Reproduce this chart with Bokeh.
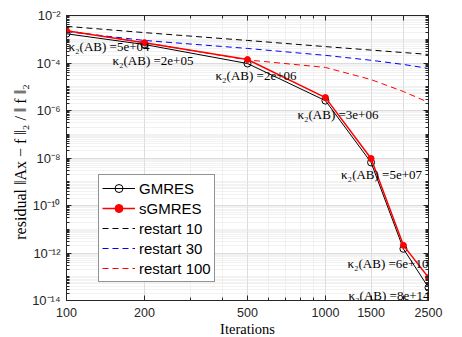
from bokeh.plotting import figure
from bokeh.models import (Range1d, FixedTicker, LogAxis, Legend, LegendItem,
                          ColumnDataSource, Label)
from bokeh.embed import file_html
from bokeh.resources import INLINE

# ---------------- data ----------------
iterations = [100, 200, 500, 1000, 1500, 2000, 2500]
gmres = [1.7e-3, 6.0e-4, 9.5e-5, 2.6e-6, 6.5e-9, 1.5e-12, 3.5e-14]
sgmres = [2.3e-3, 7.2e-4, 1.4e-4, 3.5e-6, 9.5e-9, 2.1e-12, 9.3e-14]
restart10 = [3.5e-3, 1.9e-3, 8.9e-4, 4.9e-4, 3.5e-4, 2.75e-4, 2.3e-4]
restart30 = [2.1e-3, 8.9e-4, 4.1e-4, 2.1e-4, 1.3e-4, 8.7e-5, 5.9e-5]
restart100 = [2.3e-3, 7.2e-4, 1.35e-4, 6.5e-5, 2.0e-5, 6.3e-6, 2.2e-6]
kappa = ["5e+04", "2e+05", "2e+06", "3e+06", "5e+07", "6e+10", "8e+14"]

x_ticks = [100, 200, 500, 1000, 1500, 2000, 2500]
x_tick_labels = ["100", "200", "500", "1000", "1500", "", "2500"]
x_minor = [300, 400, 600, 700, 800, 900]
y_exps = [-14, -12, -10, -8, -6, -4, -2]

# label placement (style, screen px); annotations are clipped to the frame,
# so the edge labels are nudged inside it
label_dx = [2, -32, -32, -28, -30, -56, -80]
label_dy = [-13, -16, -12, -14, -12, -15, -8]

# ---------------- figure ----------------
p = figure(frame_width=362, frame_height=285,
           x_axis_type="log", y_axis_type="log",
           x_range=Range1d(100, 2500), y_range=Range1d(1e-14, 1e-2),
           output_backend="svg", toolbar_location=None,
           min_border_left=66, min_border_right=34, min_border_top=15,
           min_border_bottom=37, background_fill_color="white",
           border_fill_color="white")
p.outline_line_color = "#262626"

y_major = [10.0 ** e for e in y_exps]
y_minor = []
for e in range(-14, -2):
    for k in range(1, 10):
        v = k * 10.0 ** e
        if k == 1 and e in y_exps:
            continue
        y_minor.append(v)

xticker = FixedTicker(ticks=x_ticks, minor_ticks=x_minor)
yticker = FixedTicker(ticks=y_major, minor_ticks=y_minor)

sup = str.maketrans("-0123456789", "⁻⁰¹²³⁴⁵⁶⁷⁸⁹")
y_over = {10.0 ** e: "10" + str(e).translate(sup) for e in y_exps}
x_over = {t: s if s else " " for t, s in zip(x_ticks, x_tick_labels)}

axis_col = "#262626"
tick_font = "Liberation Sans"


def style_axis(ax):
    ax.axis_line_color = axis_col
    ax.major_tick_line_color = axis_col
    ax.minor_tick_line_color = axis_col
    ax.major_tick_in = 5
    ax.major_tick_out = 0
    ax.minor_tick_in = 3
    ax.minor_tick_out = 0
    ax.major_label_text_font = tick_font
    ax.major_label_text_font_size = "13px"
    ax.major_label_text_color = axis_col
    ax.major_label_standoff = 6


p.xaxis.ticker = xticker
p.yaxis.ticker = yticker
p.xaxis.major_label_overrides = x_over
p.yaxis.major_label_overrides = y_over
for ax in p.xaxis + p.yaxis:
    style_axis(ax)
p.xaxis.major_label_text_font_size = "12.5px"
p.xaxis.major_label_standoff = 5

p.xaxis.axis_label = "Iterations"
p.yaxis.axis_label = "residual   ‖Ax − f ‖₂ / ‖ f ‖₂"
for ax in p.xaxis + p.yaxis:
    ax.axis_label_text_font = "Liberation Serif"
    ax.axis_label_text_font_style = "normal"
    ax.axis_label_text_color = "#000000"
p.xaxis.axis_label_text_font_size = "14.5px"
p.yaxis.axis_label_text_font_size = "16px"
p.xaxis.axis_label_standoff = -2
p.yaxis.axis_label_standoff = 0

top = LogAxis(ticker=FixedTicker(ticks=x_ticks, minor_ticks=x_minor))
right = LogAxis(ticker=FixedTicker(ticks=y_major, minor_ticks=y_minor))
for ax, ticks in ((top, x_ticks), (right, y_major)):
    style_axis(ax)
    ax.major_label_overrides = {t: " " for t in ticks}
    ax.major_label_standoff = 0
    ax.major_label_text_font_size = "10px"
p.add_layout(top, "above")
p.add_layout(right, "right")

p.xgrid.ticker = xticker
p.ygrid.ticker = yticker
for g in (p.xgrid[0], p.ygrid[0]):
    g.grid_line_color = "#dcdcdc"
    g.grid_line_width = 1
    g.minor_grid_line_color = "#e4e4e4"
    g.minor_grid_line_dash = "1 1"
    g.minor_grid_line_width = 1

# ---------------- series ----------------
src = ColumnDataSource(dict(x=iterations, gmres=gmres, sgmres=sgmres,
                            r10=restart10, r30=restart30, r100=restart100))

dash = "6 4"
l10 = p.line("x", "r10", source=src, line_color="black", line_dash=dash, line_width=1)
l30 = p.line("x", "r30", source=src, line_color="#0000ff", line_dash=dash, line_width=1)
l100 = p.line("x", "r100", source=src, line_color="#ff0000", line_dash=dash, line_width=1)
lg = p.line("x", "gmres", source=src, line_color="black", line_width=1)
cg = p.scatter("x", "gmres", source=src, marker="circle", size=7,
               fill_color=None, line_color="black", line_width=1)
ls = p.line("x", "sgmres", source=src, line_color="#ff0000", line_width=1.5)
cs = p.scatter("x", "sgmres", source=src, marker="circle", size=6,
               fill_color="#ff0000", line_color="#ff0000")

for xi, yi, k, dx, dy in zip(iterations, gmres, kappa, label_dx, label_dy):
    p.add_layout(Label(x=xi, y=yi, text="κ₂(AB) =" + k,
                       x_offset=dx, y_offset=dy,
                       text_font="Liberation Serif", text_font_size="13px",
                       text_align="left", text_baseline="middle",
                       text_color="black"))

legend = Legend(items=[
    LegendItem(label="GMRES", renderers=[lg, cg]),
    LegendItem(label="sGMRES", renderers=[ls, cs]),
    LegendItem(label="restart 10", renderers=[l10]),
    LegendItem(label="restart 30", renderers=[l30]),
    LegendItem(label="restart 100", renderers=[l100]),
], location=(32, 18))
legend.label_text_font = "Liberation Sans"
legend.label_text_font_size = "15px"
legend.label_text_color = "black"
legend.glyph_width = 33
legend.glyph_height = 20
legend.label_height = 20
legend.label_standoff = 4
legend.spacing = 0
legend.padding = 3
legend.margin = 0
legend.border_line_color = axis_col
legend.border_line_width = 1
legend.background_fill_color = "white"
legend.background_fill_alpha = 1
p.add_layout(legend, "center")

open("out.html", "w").write(file_html(p, INLINE))
